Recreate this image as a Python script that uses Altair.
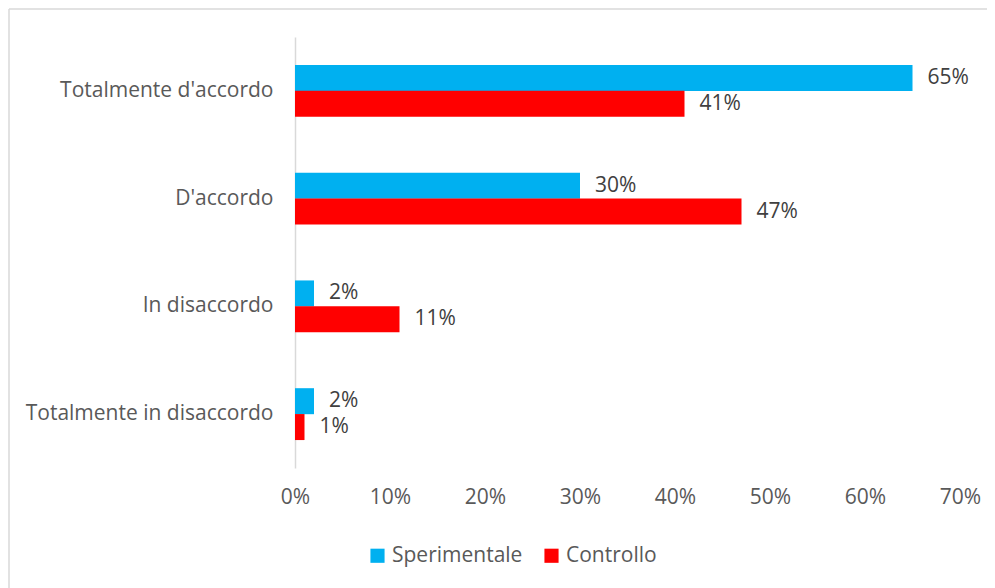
import altair as alt
import pandas as pd

categories = ["Totalmente d'accordo", "D'accordo", "In disaccordo", "Totalmente in disaccordo"]
groups = ["Sperimentale", "Controllo"]
sperimentale = [0.65, 0.30, 0.02, 0.02]
controllo = [0.41, 0.47, 0.11, 0.01]
x_ticks = [0, 0.1, 0.2, 0.3, 0.4, 0.5, 0.6, 0.7]

rows = []
for c, s, k in zip(categories, sperimentale, controllo):
    rows.append({"cat": c, "grp": "Sperimentale", "val": s})
    rows.append({"cat": c, "grp": "Controllo", "val": k})
df = pd.DataFrame(rows)

FONT = "Open Sans"
FS = 21
GRAY = "#595959"

y_enc = alt.Y("cat:N", sort=categories,
              scale=alt.Scale(paddingInner=0.52, paddingOuter=0.26),
              axis=alt.Axis(title=None, ticks=False, labelFontSize=FS, labelColor=GRAY,
                            labelFont=FONT, labelPadding=22, domainColor="#D9D9D9",
                            domainWidth=1.5, labelLimit=400))
x_enc = alt.X("val:Q", scale=alt.Scale(domain=[0, 0.7], nice=False),
              axis=alt.Axis(title=None, values=x_ticks, format=".0%", grid=False, domain=False,
                            ticks=False, labelFontSize=FS, labelColor=GRAY, labelFont=FONT,
                            labelPadding=18, labelFlush=False))
yoff = alt.YOffset("grp:N", sort=groups, scale=alt.Scale(paddingInner=0, paddingOuter=0))
color = alt.Color("grp:N", sort=groups,
                  scale=alt.Scale(domain=groups, range=["#00B0F0", "#FF0000"]),
                  legend=alt.Legend(title=None, orient="none", direction="horizontal",
                                    legendX=72, legendY=508, symbolType="square",
                                    symbolSize=200, symbolStrokeWidth=0, labelFontSize=FS,
                                    labelColor=GRAY, labelFont=FONT, columnPadding=18,
                                    labelOffset=4))

frame_df = pd.DataFrame({"k": [0]})
left_edge = alt.Chart(frame_df).mark_rule(stroke="#D9D9D9", strokeWidth=1.5, clip=False).encode(
    x=alt.value(-286), y=alt.value(-28), y2=alt.value(700))
top_edge = alt.Chart(frame_df).mark_rule(stroke="#D9D9D9", strokeWidth=1.5, clip=False).encode(
    x=alt.value(-286), x2=alt.value(800), y=alt.value(-28))

bars = alt.Chart(df).mark_bar(size=26).encode(y=y_enc, x=x_enc, yOffset=yoff, color=color)
labels = alt.Chart(df).mark_text(align="left", baseline="middle", dx=15, fontSize=FS,
                                 font=FONT, color="#404040").encode(
    y=alt.Y("cat:N", sort=categories), x="val:Q", yOffset=yoff,
    text=alt.Text("val:Q", format=".0%"))

chart = (left_edge + top_edge + bars + labels).properties(
    width=665, height=431,
    autosize=alt.AutoSizeParams(type="none"),
    padding={"left": 287, "top": 29, "right": 27, "bottom": 120},
).configure_view(stroke=None)

chart.save("out.html", embed_options={"renderer": "svg", "actions": False})
